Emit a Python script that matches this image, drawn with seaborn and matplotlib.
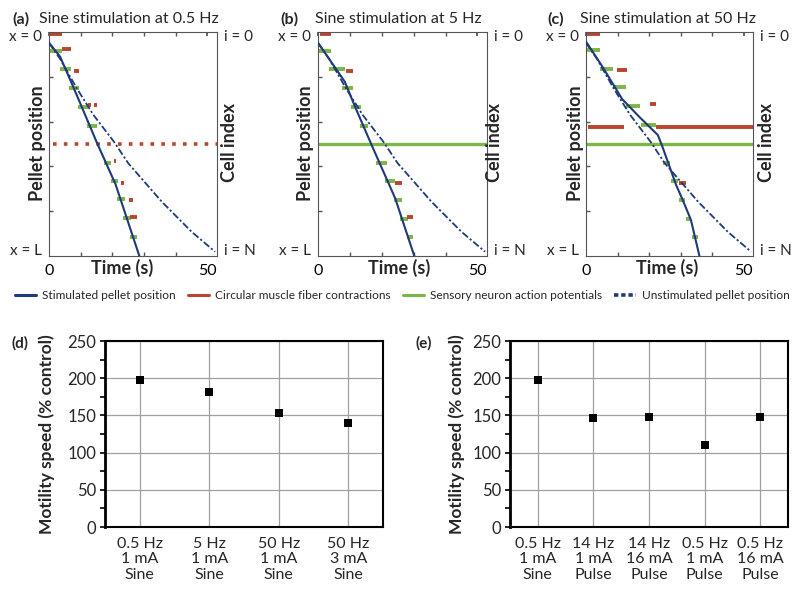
import matplotlib
matplotlib.use("Agg")
import matplotlib.pyplot as plt
import seaborn as sns
import pandas as pd
from matplotlib.lines import Line2D
from matplotlib.ticker import FixedLocator

# ---------------- data ----------------
panel_tags = ["(a)", "(b)", "(c)"]
panel_titles = ["Sine stimulation at 0.5 Hz", "Sine stimulation at 5 Hz", "Sine stimulation at 50 Hz"]

# unstimulated pellet position (same in all three panels)
unstim_t = [0, 3.5, 8.7, 14.0, 20.5, 25.0, 35.6, 45.0, 52.4]
unstim_x = [0.049, 0.12, 0.25, 0.37, 0.49, 0.586, 0.758, 0.892, 0.981]

# stimulated pellet position
stim_a_t = [0, 3.5, 7.5, 15.2, 21.0, 28.5]
stim_a_x = [0.048, 0.11, 0.24, 0.497, 0.68, 1.0]
stim_b_t = [0, 8.4, 11.6, 16.8, 24.2, 30.2]
stim_b_x = [0.048, 0.222, 0.333, 0.504, 0.742, 1.0]
stim_c_t = [0, 5.0, 11.5, 17.0, 22.8, 24.2, 28.6, 30.7, 33.3, 36.0]
stim_c_x = [0.043, 0.15, 0.30, 0.38, 0.46, 0.51, 0.683, 0.75, 0.839, 1.0]

# sensory neuron action potentials (green): position, start time, end time
green_a_y = [0.085, 0.167, 0.251, 0.333, 0.418, 0.583, 0.665, 0.747, 0.832, 0.914]
green_a_t0 = [0, 3.5, 6.4, 9.1, 11.9, 17.4, 19.5, 21.4, 23.5, 25.6]
green_a_t1 = [4.0, 7.0, 9.6, 12.4, 15.1, 19.6, 21.9, 24.1, 25.9, 27.8]
green_b_y = [0.085, 0.167, 0.251, 0.333, 0.418, 0.583, 0.665, 0.75, 0.835, 0.917]
green_b_t0 = [0, 3.5, 7.6, 10.5, 13.2, 18.2, 21.0, 23.7, 25.8, 27.9]
green_b_t1 = [4.0, 8.4, 11.0, 13.5, 15.8, 21.6, 24.2, 26.3, 28.2, 29.7]
green_c_y = [0.080, 0.164, 0.247, 0.33, 0.415, 0.583, 0.665, 0.75, 0.835, 0.917]
green_c_t0 = [0, 4.6, 8.6, 12.8, 17.6, 24.4, 27.0, 29.4, 31.8, 33.6]
green_c_t1 = [4.4, 8.6, 12.8, 17.2, 22.1, 26.5, 29.1, 31.5, 33.3, 35.7]
# full-length green (stimulated cell)
green_full_b = [0.5, 0, 53]
green_full_c = [0.5, 0, 53]

# circular muscle fiber contractions (red)
red_a_y = [0.008, 0.076, 0.174, 0.326, 0.326, 0.576, 0.673, 0.75, 0.824]
red_a_t0 = [0, 4.0, 7.9, 12.4, 14.3, 20.4, 22.7, 25.1, 25.6]
red_a_t1 = [4.0, 6.9, 9.5, 13.2, 15.1, 21.1, 23.7, 26.4, 27.8]
red_full_a = [0.5, 1.3, 53]
red_b_y = [0.008, 0.174, 0.673, 0.824]
red_b_t0 = [0.5, 8.7, 24.2, 27.9]
red_b_t1 = [4.2, 11.0, 26.3, 29.7]
red_c_y = [0.008, 0.171, 0.321, 0.423, 0.423, 0.673]
red_c_t0 = [0.2, 9.7, 20.2, 0.7, 22.1, 29.6]
red_c_t1 = [4.4, 13.0, 22.3, 12.1, 53.0, 31.7]

# bottom panels
d_labels = ["0.5 Hz\n1 mA\nSine", "5 Hz\n1 mA\nSine", "50 Hz\n1 mA\nSine", "50 Hz\n3 mA\nSine"]
d_values = [198, 181, 153, 140]
e_labels = ["0.5 Hz\n1 mA\nSine", "14 Hz\n1 mA\nPulse", "14 Hz\n16 mA\nPulse",
            "0.5 Hz\n1 mA\nPulse", "0.5 Hz\n16 mA\nPulse"]
e_values = [198, 147, 148, 110, 148]

legend_labels = ["Stimulated pellet position", "Circular muscle fiber contractions",
                 "Sensory neuron action potentials", "Unstimulated pellet position"]

# ---------------- style ----------------
sns.set_theme(style="white")
plt.rcParams['font.family'] = ['Lato', 'DejaVu Sans']

NAVY = "#1f3a7a"
RED = "#b9452e"
GREEN = "#7cb646"
DASHDOT = (0, (4, 1.3, 1.2, 1.3))

W, H = 800, 596
fig = plt.figure(figsize=(W / 100, H / 100), dpi=100)


def fx(x):
    return x / W


def fy(y):
    return 1 - y / H


def add_ax(l, t, r, b):
    return fig.add_axes([fx(l), fy(b), fx(r) - fx(l), (b - t) / H])


top_boxes = [(49, 32, 217, 256), (318, 32, 487, 256), (586, 32, 753, 256)]
stims = [(stim_a_t, stim_a_x), (stim_b_t, stim_b_x), (stim_c_t, stim_c_x)]
greens = [(green_a_y, green_a_t0, green_a_t1), (green_b_y, green_b_t0, green_b_t1),
          (green_c_y, green_c_t0, green_c_t1)]
reds = [(red_a_y, red_a_t0, red_a_t1), (red_b_y, red_b_t0, red_b_t1), (red_c_y, red_c_t0, red_c_t1)]
green_full = [None, green_full_b, green_full_c]
red_full = [red_full_a, None, None]
tag_x = [12, 280, 547]
title_x = [39, 315, 580]
pellet_x = [37, 306, 576]
cell_x = [230, 495, 767]
time_x = [122, 399, 667]

for i, box in enumerate(top_boxes):
    ax = add_ax(*box)
    gy, g0, g1 = greens[i]
    ry, r0, r1 = reds[i]
    ax.hlines(gy, g0, g1, color=GREEN, lw=2.8, zorder=2)
    if green_full[i] is not None:
        y, a, b = green_full[i]
        ax.hlines([y], [a], [b], color=GREEN, lw=2.4, zorder=2)
    ax.hlines(ry, r0, r1, color=RED, lw=2.8, zorder=2)
    if red_full[i] is not None:
        y, a, b = red_full[i]
        ax.hlines([y], [a], [b], color=RED, lw=2.6, linestyles=(0, (1, 2.0)), zorder=2)
    st, sx = stims[i]
    sns.lineplot(x=unstim_t, y=unstim_x, ax=ax, color=NAVY, lw=1.3, sort=False,
                 estimator=None, linestyle=DASHDOT, zorder=3)
    sns.lineplot(x=st, y=sx, ax=ax, color=NAVY, lw=1.5, sort=False, estimator=None, zorder=4)
    ax.set_xlim(0, 53)
    ax.set_ylim(1.0, 0.0)
    ax.set_xlabel("")
    ax.set_ylabel("")
    for s in ax.spines.values():
        s.set_color("#555555")
        s.set_linewidth(0.8)
    ax.xaxis.set_major_locator(FixedLocator([0, 50]))
    ax.xaxis.set_minor_locator(FixedLocator([10, 20, 30, 40]))
    ax.set_xticklabels(["0", "50"], fontsize=11.5)
    ax.yaxis.set_major_locator(FixedLocator([0.015, 0.97]))
    ax.yaxis.set_minor_locator(FixedLocator([0.2, 0.4, 0.6, 0.8]))
    ax.set_yticklabels(["x = 0", "x = L"], fontsize=11)
    ax.tick_params(which="major", axis="y", length=0, pad=5)
    ax.tick_params(which="major", axis="x", length=3, direction="in", top=True, pad=6, colors="#555555",
                   labelcolor="black")
    ax.tick_params(which="minor", length=3, direction="in", top=True, right=True, left=True,
                   bottom=True, color="#555555")
    ax2 = ax.twinx()
    ax2.set_ylim(1.0, 0.0)
    ax2.yaxis.set_major_locator(FixedLocator([0.015, 0.97]))
    ax2.set_yticklabels(["i = 0", "i = N"], fontsize=11)
    ax2.tick_params(axis="y", length=0, pad=5)
    ax2.grid(False)
    for s in ax2.spines.values():
        s.set_visible(False)
    # texts
    fig.text(fx(tag_x[i]), fy(19), panel_tags[i], fontsize=11.5, fontweight="bold", ha="left", va="center")
    fig.text(fx(title_x[i]), fy(19), panel_titles[i], fontsize=11.5, ha="left", va="center")
    fig.text(fx(pellet_x[i]), fy(143), "Pellet position", fontsize=13, fontweight="bold",
             rotation=90, ha="center", va="center")
    fig.text(fx(cell_x[i]), fy(143), "Cell index", fontsize=13, fontweight="bold",
             rotation=90, ha="center", va="center")
    fig.text(fx(time_x[i]), fy(268), "Time (s)", fontsize=13, fontweight="bold", ha="center", va="center")

# legend
handles = [Line2D([], [], color=NAVY, lw=2.2),
           Line2D([], [], color=RED, lw=2.2),
           Line2D([], [], color=GREEN, lw=2.2),
           Line2D([], [], color=NAVY, lw=2.6, linestyle=(0, (1.2, 0.8)))]
fig.legend(handles, legend_labels, loc="center", bbox_to_anchor=(fx(402), fy(296)), ncol=4,
           frameon=False, fontsize=8.6, handlelength=1.8, handletextpad=0.5, columnspacing=1.0)

# bottom panels
bot = [((105, 341, 383, 527), d_labels, d_values, "(d)", 12, 47),
       ((510, 341, 788, 527), e_labels, e_values, "(e)", 415, 457)]
for box, labels, values, tag, tagx, ylabx in bot:
    ax = add_ax(*box)
    df = pd.DataFrame({"cond": labels, "speed": values})
    sns.scatterplot(data=df, x="cond", y="speed", ax=ax, marker="s", s=34, color="black",
                    edgecolor="black", linewidth=0, zorder=3)
    ax.set_xlim(-0.5, len(labels) - 0.5)
    ax.set_ylim(0, 250)
    ax.set_yticks([0, 50, 100, 150, 200, 250])
    ax.set_yticks([25, 75, 125, 175, 225], minor=True)
    ax.grid(True, which="major", color="#a0a0a0", lw=0.9)
    ax.set_axisbelow(True)
    ax.set_xlabel("")
    ax.set_ylabel("")
    ax.tick_params(axis="y", which="both", left=True, length=3.5, width=1.2, direction="out",
                   labelsize=12, pad=3, color="black")
    ax.tick_params(axis="x", length=0, labelsize=11.5, pad=7)
    for t in ax.get_xticklabels():
        t.set_linespacing(1.15)
    for s in ax.spines.values():
        s.set_color("black")
        s.set_linewidth(1.5)
    ax.spines["left"].set_linewidth(2.0)
    fig.text(fx(tagx), fy(343), tag, fontsize=11, fontweight="bold", ha="left", va="center")
    fig.text(fx(ylabx), fy(434), "Motility speed (% control)", fontsize=12.5, fontweight="bold",
             rotation=90, ha="center", va="center")

fig.savefig("out.png", dpi=100)
